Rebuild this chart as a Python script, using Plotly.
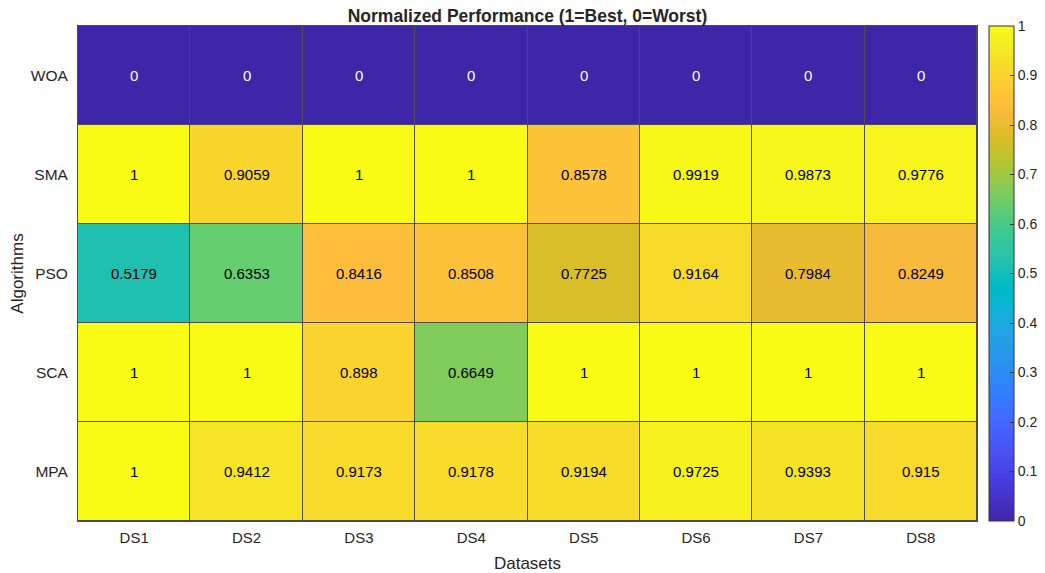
import plotly.graph_objects as go

datasets = ["DS1", "DS2", "DS3", "DS4", "DS5", "DS6", "DS7", "DS8"]
algorithms = ["WOA", "SMA", "PSO", "SCA", "MPA"]
woa = [0, 0, 0, 0, 0, 0, 0, 0]
sma = [1, 0.9059, 1, 1, 0.8578, 0.9919, 0.9873, 0.9776]
pso = [0.5179, 0.6353, 0.8416, 0.8508, 0.7725, 0.9164, 0.7984, 0.8249]
sca = [1, 1, 0.898, 0.6649, 1, 1, 1, 1]
mpa = [1, 0.9412, 0.9173, 0.9178, 0.9194, 0.9725, 0.9393, 0.915]
colorbar_ticks = [0, 0.1, 0.2, 0.3, 0.4, 0.5, 0.6, 0.7, 0.8, 0.9, 1]

z = [woa, sma, pso, sca, mpa]

parula = [
    (0.2422, 0.1504, 0.6603), (0.2504, 0.1650, 0.7076), (0.2578, 0.1818, 0.7511),
    (0.2647, 0.1978, 0.7952), (0.2706, 0.2147, 0.8364), (0.2751, 0.2342, 0.8710),
    (0.2783, 0.2559, 0.8991), (0.2803, 0.2782, 0.9221), (0.2813, 0.3006, 0.9414),
    (0.2810, 0.3228, 0.9579), (0.2795, 0.3447, 0.9717), (0.2760, 0.3667, 0.9829),
    (0.2699, 0.3892, 0.9906), (0.2602, 0.4123, 0.9952), (0.2440, 0.4358, 0.9988),
    (0.2206, 0.4603, 0.9973), (0.1963, 0.4847, 0.9892), (0.1834, 0.5074, 0.9798),
    (0.1786, 0.5289, 0.9682), (0.1764, 0.5499, 0.9520), (0.1687, 0.5703, 0.9359),
    (0.1540, 0.5902, 0.9218), (0.1460, 0.6091, 0.9079), (0.1380, 0.6276, 0.8973),
    (0.1248, 0.6459, 0.8883), (0.1113, 0.6635, 0.8763), (0.0952, 0.6798, 0.8598),
    (0.0689, 0.6948, 0.8394), (0.0297, 0.7082, 0.8163), (0.0036, 0.7203, 0.7917),
    (0.0067, 0.7312, 0.7660), (0.0433, 0.7411, 0.7394), (0.0964, 0.7500, 0.7120),
    (0.1408, 0.7584, 0.6842), (0.1717, 0.7670, 0.6554), (0.1938, 0.7758, 0.6251),
    (0.2161, 0.7843, 0.5923), (0.2470, 0.7918, 0.5567), (0.2906, 0.7973, 0.5188),
    (0.3406, 0.8008, 0.4789), (0.3909, 0.8029, 0.4354), (0.4456, 0.8024, 0.3909),
    (0.5044, 0.7993, 0.3480), (0.5616, 0.7942, 0.3045), (0.6174, 0.7876, 0.2612),
    (0.6720, 0.7793, 0.2227), (0.7242, 0.7698, 0.1910), (0.7738, 0.7598, 0.1646),
    (0.8203, 0.7498, 0.1535), (0.8634, 0.7406, 0.1596), (0.9035, 0.7330, 0.1774),
    (0.9393, 0.7288, 0.2100), (0.9728, 0.7298, 0.2394), (0.9956, 0.7434, 0.2371),
    (0.9970, 0.7659, 0.2199), (0.9952, 0.7893, 0.2028), (0.9892, 0.8136, 0.1885),
    (0.9786, 0.8386, 0.1766), (0.9676, 0.8639, 0.1643), (0.9610, 0.8890, 0.1537),
    (0.9597, 0.9135, 0.1423), (0.9628, 0.9373, 0.1265), (0.9691, 0.9606, 0.1064),
    (0.9769, 0.9839, 0.0805),
]
n = len(parula)
colorscale = [[i / (n - 1), "rgb(%d,%d,%d)" % tuple(round(c * 255) for c in col)]
              for i, col in enumerate(parula)]

FONT = "Liberation Sans, Arial, sans-serif"
TXT = "#262626"

fig = go.Figure(go.Heatmap(
    z=z, x=datasets, y=algorithms,
    zmin=0, zmax=1, colorscale=colorscale,
    xgap=1, ygap=1,
    colorbar=dict(
        thickness=25, len=1.0, lenmode="fraction", y=0.5, yanchor="middle",
        x=1.013, xanchor="left", xpad=0, ypad=0,
        tickvals=colorbar_ticks, ticktext=[("%g" % t) for t in colorbar_ticks],
        ticks="inside", ticklen=4, tickcolor="#333", tickwidth=1,
        outlinewidth=1, outlinecolor="#333",
        tickfont=dict(family=FONT, size=14, color=TXT),
    ),
    hoverinfo="skip",
))

for r, alg in enumerate(algorithms):
    for c, ds in enumerate(datasets):
        v = z[r][c]
        fig.add_annotation(
            x=ds, y=alg, text="%g" % v, showarrow=False,
            font=dict(family=FONT, size=15, color="white" if v < 0.3 else "black"),
        )

fig.update_layout(
    width=1045, height=573,
    margin=dict(l=78, r=68, t=26, b=52, autoexpand=False),
    paper_bgcolor="white", plot_bgcolor="#4d4d4d",
    title=dict(text="<b>Normalized Performance (1=Best, 0=Worst)</b>",
               x=0.5, xref="paper", xanchor="center", y=0.972, yanchor="middle",
               font=dict(family=FONT, size=17.5, color=TXT)),
    font=dict(family=FONT, color=TXT),
)
fig.update_xaxes(
    title=dict(text="Datasets", font=dict(size=17, family=FONT, color=TXT), standoff=12),
    tickfont=dict(size=15, family=FONT, color=TXT), automargin=False,
    ticklabelstandoff=3,
    showline=True, linecolor="#4d4d4d", linewidth=1, mirror=True, ticks="", showgrid=False,
    zeroline=False,
)
fig.update_yaxes(
    title=dict(text="Algorithms", font=dict(size=17, family=FONT, color=TXT), standoff=2),
    tickfont=dict(size=15.5, family=FONT, color=TXT), automargin=False,
    autorange="reversed", ticklabelstandoff=6,
    showline=True, linecolor="#4d4d4d", linewidth=1, mirror=True, ticks="", showgrid=False,
    zeroline=False,
)

fig.write_html("out.html", config={"displayModeBar": False},
               post_script="document.body.style.margin='0px';")
